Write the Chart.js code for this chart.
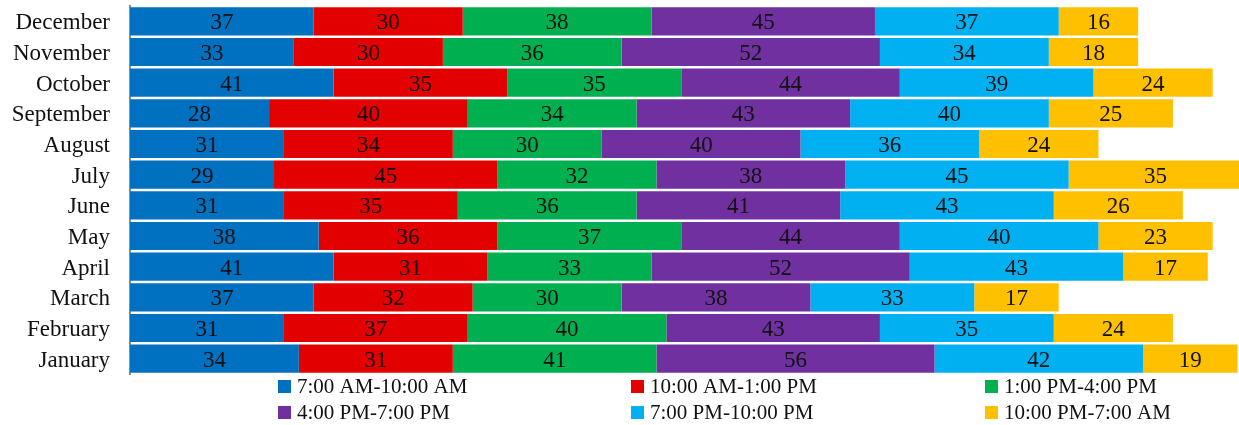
<!DOCTYPE html>
<html>
<head>
<meta charset="utf-8">
<script src="https://cdn.jsdelivr.net/npm/chart.js@4.4.0/dist/chart.umd.min.js"></script>
<style>
  html, body { margin: 0; padding: 0; background: #fff; overflow: hidden; }
  #wrap { width: 1239px; height: 425px; position: relative; }
</style>
</head>
<body>
<div id="wrap"><canvas id="timeChart" width="1239" height="425"></canvas></div>
<script>
const months = ["January", "February", "March", "April", "May", "June",
  "July", "August", "September", "October", "November", "December"];

const seriesNames = ["7:00 AM-10:00 AM", "10:00 AM-1:00 PM", "1:00 PM-4:00 PM",
  "4:00 PM-7:00 PM", "7:00 PM-10:00 PM", "10:00 PM-7:00 AM"];

const morning   = [34, 31, 37, 41, 38, 31, 29, 31, 28, 41, 33, 37];
const midday    = [31, 37, 32, 31, 36, 35, 45, 34, 40, 35, 30, 30];
const afternoon = [41, 40, 30, 33, 37, 36, 32, 30, 34, 35, 36, 38];
const evening   = [56, 43, 38, 52, 44, 41, 38, 40, 43, 44, 52, 45];
const night     = [42, 35, 33, 43, 40, 43, 45, 36, 40, 39, 34, 37];
const overnight = [19, 24, 17, 17, 23, 26, 35, 24, 25, 24, 18, 16];

const colors = ["#0070C0", "#E20000", "#00B050", "#7030A0", "#00B0F0", "#FFC000"];
const FONT = "'Liberation Serif', 'Times New Roman', serif";

const allSeries = [morning, midday, afternoon, evening, night, overnight];

// values written in the middle of every segment
const barLabels = {
  id: "barLabels",
  afterDatasetsDraw(chart) {
    const ctx = chart.ctx;
    const area = chart.chartArea;
    ctx.save();
    ctx.beginPath();
    ctx.rect(area.left, area.top, area.right - area.left, area.bottom - area.top);
    ctx.clip();
    ctx.font = "23px " + FONT;
    ctx.fillStyle = "#111";
    ctx.textAlign = "center";
    ctx.textBaseline = "middle";
    chart.data.datasets.forEach((ds, i) => {
      chart.getDatasetMeta(i).data.forEach((bar, j) => {
        const p = bar.getCenterPoint();
        ctx.fillText(String(ds.data[j]), p.x, p.y + 2);
      });
    });
    ctx.restore();
  }
};

// legend in three fixed columns, two rows
const gridLegend = {
  id: "gridLegend",
  afterDraw(chart) {
    const ctx = chart.ctx;
    const cols = [278, 631, 985];
    const rows = [386, 412];
    ctx.save();
    ctx.font = "21px " + FONT;
    ctx.textBaseline = "middle";
    ctx.textAlign = "left";
    chart.data.datasets.forEach((ds, i) => {
      const x = cols[i % 3];
      const y = rows[Math.floor(i / 3)];
      ctx.fillStyle = ds.backgroundColor;
      ctx.fillRect(x, y - 6, 13, 13);
      ctx.fillStyle = "#111";
      ctx.fillText(ds.label, x + 19, y + 1);
    });
    ctx.restore();
  }
};

const ctx = document.getElementById("timeChart").getContext("2d");

new Chart(ctx, {
  type: "bar",
  data: {
    labels: months,
    datasets: allSeries.map((vals, i) => ({
      label: seriesNames[i],
      data: vals,
      backgroundColor: colors[i],
      borderWidth: 0,
      categoryPercentage: 1,
      barPercentage: 0.92
    }))
  },
  options: {
    indexAxis: "y",
    responsive: false,
    animation: false,
    layout: { padding: { left: 0, right: 0, top: 6, bottom: 51 } },
    plugins: {
      legend: { display: false },
      tooltip: { enabled: false }
    },
    scales: {
      x: {
        stacked: true,
        display: false,
        min: 0,
        max: 223.3
      },
      y: {
        stacked: true,
        reverse: true,
        afterFit(scale) {
          scale.width = 130;
          scale.paddingTop = 0;
          scale.paddingBottom = 0;
        },
        grid: { display: false, drawTicks: false },
        border: { display: true, color: "#8c8c8c", width: 2 },
        ticks: {
          padding: 20,
          labelOffset: 2,
          color: "#111",
          font: { family: FONT, size: 23 }
        }
      }
    }
  },
  plugins: [barLabels, gridLegend]
});
</script>
</body>
</html>
